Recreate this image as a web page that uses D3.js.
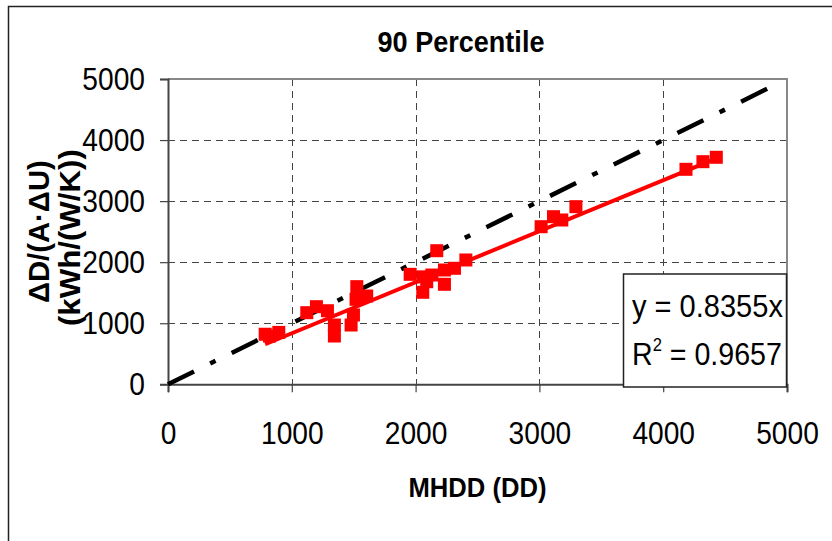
<!DOCTYPE html>
<html>
<head>
<meta charset="utf-8">
<script src="https://cdn.jsdelivr.net/npm/d3@7"></script>
<style>
  body { margin: 0; background: #fff; }
  text { font-family: "Liberation Sans", Arial, sans-serif; }
</style>
</head>
<body>
<div id="chart"></div>
<script>
// MHDD (DD) per building
const mhdd = [785, 820, 895, 1121, 1199, 1288, 1344, 1344, 1479, 1498, 1525, 1519, 1605,
    1956, 2060, 2058, 2090, 2131, 2171, 2233, 2233, 2314, 2406,
    3014, 3114, 3181, 3295, 4184, 4321, 4429];
// ΔD/(A·ΔU), kWh/(W/K)
const deltaD = [820, 790, 850, 1173, 1271, 1205, 971, 791, 971, 1135, 1599, 1392, 1446,
    1801, 1760, 1507, 1680, 1790, 2188, 1872, 1638, 1900, 2036,
    2581, 2745, 2691, 2909, 3521, 3646, 3718];

const xTicks = [0, 1000, 2000, 3000, 4000, 5000];
const yTicks = [0, 1000, 2000, 3000, 4000, 5000];
const slope = 0.8355;
const rSquared = 0.9657;
const identityEnd = 4880;

const width = 832, height = 541;
const plot = {left: 168, right: 787, top: 79, bottom: 384.3};
const narrow = 0.86; // reference uses a condensed face

const svg = d3.select("#chart").append("svg")
    .attr("width", width)
    .attr("height", height);

// squeeze a text horizontally around its anchor to a target width
function squeeze(textSel, g, targetWidth) {
    const w = textSel.node().getBBox().width;
    const sx = targetWidth ? targetWidth / w : narrow;
    g.attr("transform", g.attr("transform") + ` scale(${sx},1)`);
}

function label(x, y, str, size, opts = {}) {
    const g = svg.append("g").attr("transform", `translate(${x},${y})` + (opts.rotate ? ` rotate(${opts.rotate})` : ""));
    const t = g.append("text")
        .attr("text-anchor", opts.anchor || "start")
        .attr("font-size", size)
        .attr("font-weight", opts.bold ? "bold" : null)
        .text(str);
    squeeze(t, g, opts.width);
    return g;
}

// outer chart border
svg.append("rect")
    .attr("x", 8.5).attr("y", 6.5)
    .attr("width", 900).attr("height", 600)
    .attr("fill", "#fff")
    .attr("stroke", "#222")
    .attr("stroke-width", 1.5);

const x = d3.scaleLinear().domain([0, 5000]).range([plot.left, plot.right]);
const y = d3.scaleLinear().domain([0, 5000]).range([plot.bottom, plot.top]);

// grid
const grid = svg.append("g")
    .attr("stroke", "#444")
    .attr("stroke-width", 1)
    .attr("stroke-dasharray", "7,5");

grid.selectAll(".hgrid")
    .data(yTicks.filter(d => d > 0 && d < 5000))
    .join("line")
    .attr("x1", plot.left).attr("x2", plot.right)
    .attr("y1", d => Math.round(y(d)) + 0.5)
    .attr("y2", d => Math.round(y(d)) + 0.5);

grid.selectAll(".vgrid")
    .data(xTicks.filter(d => d > 0 && d < 5000))
    .join("line")
    .attr("y1", plot.top).attr("y2", plot.bottom)
    .attr("x1", d => Math.round(x(d)) + 0.5)
    .attr("x2", d => Math.round(x(d)) + 0.5);

// plot frame: top and right light gray
svg.append("path")
    .attr("d", `M${plot.left},${plot.top} H${plot.right} V${plot.bottom}`)
    .attr("fill", "none")
    .attr("stroke", "#888")
    .attr("stroke-width", 2);

// axes
const xAxis = svg.append("g")
    .attr("transform", `translate(0,${plot.bottom})`)
    .call(d3.axisBottom(x).tickValues(xTicks).tickFormat(d3.format("d")).tickSize(8).tickPadding(29));
const yAxis = svg.append("g")
    .attr("transform", `translate(${plot.left},0)`)
    .call(d3.axisLeft(y).tickValues(yTicks).tickFormat(d3.format("d")).tickSize(8).tickPadding(15));

[xAxis, yAxis].forEach(ax => {
    ax.select(".domain").attr("stroke", "#444").attr("stroke-width", 2);
    ax.selectAll(".tick line").attr("stroke", "#444").attr("stroke-width", 1.2);
    ax.selectAll("text")
        .attr("font-family", null)
        .attr("font-size", 32)
        .attr("fill", "#000")
        .attr("lengthAdjust", "spacingAndGlyphs")
        .attr("textLength", function () { return this.getComputedTextLength() * 0.88; });
});
xAxis.selectAll("text").attr("dy", "0.71em");

// identity line y = x (dash-dot)
svg.append("line")
    .attr("x1", x(0)).attr("y1", y(0))
    .attr("x2", x(identityEnd)).attr("y2", y(identityEnd))
    .attr("stroke", "#000")
    .attr("stroke-width", 4.5)
    .attr("stroke-dasharray", "29,18,6,18");

// markers
svg.append("g")
    .selectAll("rect")
    .data(mhdd.map((v, i) => [v, deltaD[i]]))
    .join("rect")
    .attr("x", d => x(d[0]) - 6.5)
    .attr("y", d => y(d[1]) - 6.5)
    .attr("width", 13)
    .attr("height", 13)
    .attr("fill", "#ff0000");

// trend line
const xMin = d3.min(mhdd), xMax = d3.max(mhdd);
svg.append("line")
    .attr("x1", x(xMin)).attr("y1", y(slope * xMin))
    .attr("x2", x(xMax)).attr("y2", y(slope * xMax))
    .attr("stroke", "#ff0000")
    .attr("stroke-width", 4);

// equation box
svg.append("rect")
    .attr("x", 623.5).attr("y", 274)
    .attr("width", 163).attr("height", 113)
    .attr("fill", "#fff")
    .attr("stroke", "#222")
    .attr("stroke-width", 1.5);
label(632, 317, `y = ${slope}x`, 32, {width: 151});

const r2g = svg.append("g").attr("transform", "translate(632,365)");
const r2 = r2g.append("text").attr("font-size", 31);
r2.append("tspan").text("R");
r2.append("tspan").attr("font-size", 18).attr("dy", -14).text("2");
r2.append("tspan").attr("dy", 14).text(` = ${rSquared}`);
squeeze(r2, r2g, 150);

// titles
label(461, 52, "90 Percentile", 29, {anchor: "middle", bold: true, width: 167});
label((plot.left + plot.right) / 2, 497, "MHDD (DD)", 28, {anchor: "middle", bold: true, width: 138});

// y axis title, two rotated lines
const yMid = (plot.top + plot.bottom) / 2;
label(49, yMid, "ΔD/(A·ΔU)", 29, {anchor: "middle", bold: true, rotate: -90, width: 143});
label(80, yMid + 6, "(kWh/(W/K))", 29, {anchor: "middle", bold: true, rotate: -90, width: 177});
</script>
</body>
</html>
